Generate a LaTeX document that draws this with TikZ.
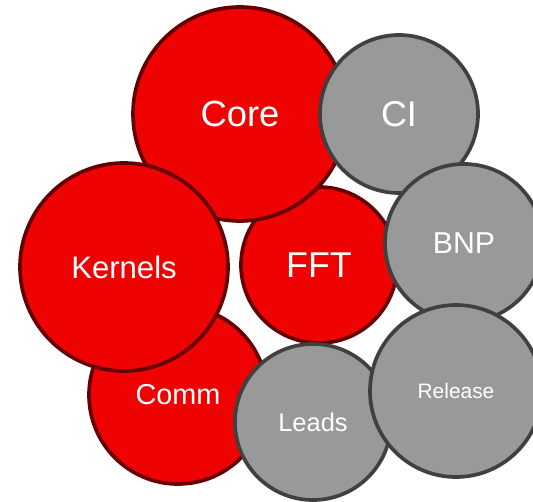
\documentclass[tikz,border=0pt]{standalone}
\usepackage{fontspec}
\setmainfont{Liberation Sans}
\usetikzlibrary{positioning}
\definecolor{teamred}{HTML}{EE0202}
\definecolor{teamredline}{HTML}{660000}
\definecolor{teamgrey}{HTML}{999999}
\definecolor{teamgreyline}{HTML}{404040}
\newcommand{\ballsize}[1]{\fontsize{#1}{#1}\selectfont}

\begin{document}
\begin{tikzpicture}
	[
	ball/.style = {circle, line width=2.1pt, text=white, inner sep=0pt},
	redball/.style = {ball, draw=teamredline, fill=teamred},
	greyball/.style = {ball, draw=teamgreyline, fill=teamgrey}
	]

	\useasboundingbox (0,0) rectangle (10.66,10.02);

	% red team, back to front
	\node[redball, minimum size=3.56cm] (comm) at (3.56,2.12) {\ballsize{16.4pt}Comm};
	\node[redball, minimum size=3.12cm] (fft) at (6.38,4.72) {\ballsize{20.4pt}FFT};
	\node[redball, minimum size=4.28cm] (core) at (4.80,7.74) {\ballsize{20.7pt}Core};
	\node[redball, minimum size=4.16cm] (kernels) at (2.48,4.68) {\ballsize{17.7pt}Kernels};

	% grey team
	\node[greyball, minimum size=3.16cm] (ci) at (7.98,7.74) {\ballsize{20.4pt}CI};
	\node[greyball, minimum size=3.16cm] (bnp) at (9.28,5.16) {\ballsize{17.2pt}BNP};
	\node[greyball, minimum size=3.12cm] (leads) at (6.26,1.58) {\ballsize{14.5pt}Leads};
	\node[greyball, minimum size=3.44cm] (release) at (9.12,2.20) {\ballsize{11.9pt}Release};

\end{tikzpicture}
\end{document}
